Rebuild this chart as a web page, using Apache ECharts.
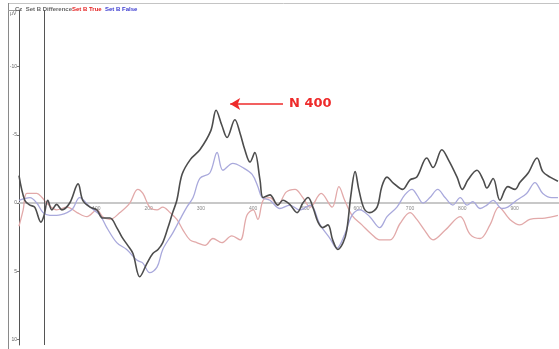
<!DOCTYPE html>
<html>
<head>
<meta charset="utf-8">
<script src="https://cdn.jsdelivr.net/npm/echarts@6/dist/echarts.min.js"></script>
<style>
  html, body { margin: 0; padding: 0; background: #fff; }
  #chart { width: 559px; height: 349px; }
</style>
</head>
<body>
<div id="chart"></div>
<script>
// ERP waveforms at Cz: [time in ms, amplitude in µV] (negative plotted upward)
const differenceWave = [
  [-48,-2.0],[-37,-0.2],[-27,0.15],[-18,0.3],[-6,1.4],[0,0.9],[7,-0.2],[15,0.5],[24,0.1],[34,0.5],
  [49,0],[65,-1.4],[74,-0.2],[88,0.3],[101,0.5],[112,1.1],[126,1.1],[139,1.8],[149,2.5],[160,3.1],
  [170,3.7],[183,5.4],[197,4.4],[208,3.7],[218,3.4],[227,2.9],[237,1.8],[246,0.7],[254,-0.2],[264,-2.1],
  [280,-3.2],[298,-3.9],[319,-5.3],[329,-6.8],[340,-5.7],[350,-4.8],[365,-6.1],[375,-5.1],[384,-3.9],[394,-3.0],
  [403,-3.7],[413,-1.7],[419,-0.4],[432,-0.6],[447,0.15],[457,-0.2],[470,0.1],[484,0.7],[495,0],[505,-0.4],
  [515,0.4],[524,1.4],[533,1.8],[543,1.6],[552,2.7],[562,3.4],[572,2.9],[579,2.0],[587,-0.6],[595,-2.3],
  [602,-1.0],[612,0.4],[623,0.7],[637,0.3],[646,-1.2],[656,-1.9],[667,-1.5],[686,-1.0],[700,-1.7],[713,-1.9],
  [732,-3.3],[744,-2.6],[761,-3.9],[773,-3.2],[790,-1.9],[800,-1.0],[811,-1.7],[828,-2.4],[840,-1.7],[847,-1.1],
  [859,-1.8],[872,-0.2],[887,-1.2],[901,-1.0],[910,-1.5],[926,-2.2],[943,-3.3],[954,-2.3],[968,-1.9],[983,-1.6]
];
const falseWave = [
  [-48,-0.2],[-27,-0.4],[-14,0],[-2,0.7],[11,0.9],[24,0.9],[44,0.7],[55,0.4],[68,-0.4],[88,0.3],
  [107,0.9],[120,1.8],[139,2.9],[158,3.4],[178,4.2],[189,4.4],[202,5.1],[216,4.7],[227,3.4],[246,2.2],
  [260,1.2],[273,0.3],[285,-0.4],[298,-1.8],[317,-2.2],[331,-3.7],[342,-2.4],[361,-2.9],[380,-2.6],[398,-2.1],
  [409,-1.2],[417,-0.4],[432,-0.2],[451,0.4],[470,0.15],[489,0.5],[509,0.15],[528,1.6],[547,2.6],[560,3.3],
  [575,2.3],[589,0.9],[604,0.5],[623,1.0],[642,1.8],[656,1.0],[675,0.3],[690,-0.6],[704,-1.0],[713,-0.6],
  [725,0],[738,-0.4],[753,-1.0],[767,-0.4],[782,0.15],[796,-0.4],[809,0.15],[820,-0.1],[834,0.4],[847,0.15],
  [859,-0.2],[876,0.4],[887,0.3],[904,-0.2],[923,-0.7],[939,-1.5],[954,-0.7],[971,-0.4],[983,-0.4]
];
const trueWave = [
  [-48,1.7],[-40,0.5],[-33,-0.7],[-14,-0.7],[-4,-0.4],[5,0],[24,0.5],[44,0.3],[63,0.7],[82,1.0],
  [101,0.5],[112,1.0],[126,1.2],[145,0.7],[164,0],[179,-1.0],[189,-0.7],[202,0.3],[216,0.5],[227,0.3],
  [241,0.7],[254,1.2],[266,2.0],[279,2.7],[292,2.9],[308,3.1],[323,2.6],[340,2.9],[359,2.4],[375,2.7],
  [388,0.9],[400,0.5],[409,1.2],[419,-0.2],[432,-0.4],[447,0.15],[463,-0.8],[480,-1.0],[495,-0.4],[509,0.3],
  [530,-0.7],[551,0.3],[564,-1.2],[575,-0.2],[589,0.9],[608,1.6],[627,2.3],[642,2.7],[662,2.7],[681,1.5],
  [700,0.7],[713,1.2],[728,2.0],[744,2.7],[767,2.0],[796,1.0],[815,2.3],[834,2.6],[853,1.6],[870,0.3],
  [891,1.2],[910,1.6],[929,1.2],[958,1.1],[983,0.9]
];
const timeTicks = [100, 200, 300, 400, 500, 600, 700, 800, 900];
const voltTicks = [-10, -5, 0, 5, 10];
const n400Arrow = { fromTime: 457, toTime: 356, level: -7.25, text: 'N 400' };

// vertical extent of the plot and where the 0 µV level sits inside it
const yMin = -14.14, yMax = 10.4;
const gridTop = 10, gridBottom = 4, chartH = 349;
const zeroOffset = (chartH - gridTop - gridBottom) * (yMax / (yMax - yMin));

const chart = echarts.init(document.getElementById('chart'), null, { renderer: 'canvas' });

chart.setOption({
  animation: false,
  backgroundColor: '#ffffff',
  title: {
    left: 10, top: 1,
    text: '{g|Cz  Set B Difference}{r|Set B True}{b|  Set B False}',
    textStyle: {
      fontSize: 6,
      rich: {
        g: { fontSize: 6, color: '#666', fontFamily: 'Liberation Sans' },
        r: { fontSize: 6, color: '#e52222', fontFamily: 'Liberation Sans' },
        b: { fontSize: 6, color: '#3a3ad0', fontFamily: 'Liberation Sans' }
      }
    }
  },
  graphic: [
    { type: 'line', shape: { x1: 8, y1: 3.5, x2: 559, y2: 3.5 }, style: { stroke: '#c4c4c4', lineWidth: 1 } },
    { type: 'line', shape: { x1: 8.5, y1: 3, x2: 8.5, y2: 349 }, style: { stroke: '#8a8a8a', lineWidth: 1 } },
    { type: 'line', shape: { x1: 8, y1: 10.5, x2: 19, y2: 10.5 }, style: { stroke: '#9a9a9a', lineWidth: 1 } },
    { type: 'text', left: 10, top: 11, style: { text: 'µV', fontSize: 5, fill: '#666', fontFamily: 'Liberation Sans' } }
  ],
  grid: { left: 19, right: 0, top: gridTop, bottom: gridBottom, containLabel: false },
  xAxis: {
    type: 'value',
    min: -48, max: 985,
    position: 'bottom',
    offset: -zeroOffset,
    axisLine: { onZero: false, lineStyle: { color: '#c8c8c8', width: 2 } },
    axisTick: { show: false },
    splitLine: { show: false },
    axisLabel: {
      customValues: timeTicks,
      fontSize: 5, color: '#888', margin: 3,
      fontFamily: 'Liberation Sans'
    }
  },
  yAxis: {
    type: 'value',
    inverse: true,
    min: yMin, max: yMax,
    axisLine: { show: true, onZero: false, lineStyle: { color: '#555', width: 1 } },
    axisTick: { show: true, customValues: voltTicks, length: 2, lineStyle: { color: '#777' } },
    splitLine: { show: false },
    axisLabel: {
      customValues: voltTicks,
      fontSize: 5, color: '#666', margin: 2,
      fontFamily: 'Liberation Sans'
    }
  },
  series: [
    {
      name: 'Set B True', type: 'line', data: trueWave, smooth: 0.35,
      showSymbol: false, lineStyle: { color: '#e2a9a9', width: 1.3 }, z: 2
    },
    {
      name: 'Set B False', type: 'line', data: falseWave, smooth: 0.35,
      showSymbol: false, lineStyle: { color: '#a9a9dc', width: 1.3 }, z: 3
    },
    {
      name: 'Set B Difference', type: 'line', data: differenceWave, smooth: 0.35,
      showSymbol: false, lineStyle: { color: '#4d4d4d', width: 1.6 }, z: 4,
      markLine: {
        silent: true,
        animation: false,
        data: [
          [
            { coord: [0, yMin], symbol: 'none', lineStyle: { color: '#555', width: 1, type: 'solid' }, label: { show: false } },
            { coord: [0, yMax], symbol: 'none' }
          ],
          [
            {
              coord: [n400Arrow.fromTime, n400Arrow.level], symbol: 'none',
              lineStyle: { color: '#ee2b2b', width: 1.5, type: 'solid' },
              label: {
                show: true, position: 'start', formatter: n400Arrow.text, distance: 6,
                color: '#ee2b2b', fontSize: 13, fontWeight: 'bold', fontFamily: 'DejaVu Sans'
              }
            },
            { coord: [n400Arrow.toTime, n400Arrow.level], symbol: 'arrow', symbolSize: [9, 10] }
          ]
        ]
      }
    }
  ]
});
</script>
</body>
</html>
